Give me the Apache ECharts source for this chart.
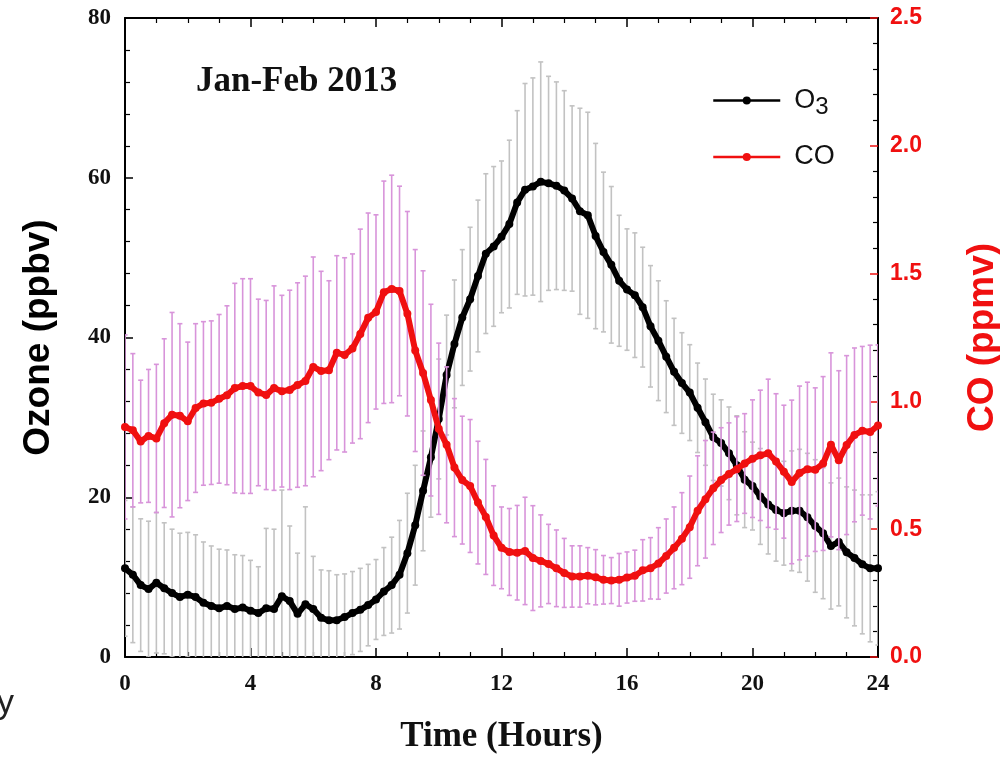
<!DOCTYPE html>
<html>
<head>
<meta charset="utf-8">
<title>Jan-Feb 2013 O3 / CO</title>
<script src="https://cdn.jsdelivr.net/npm/echarts@6/dist/echarts.min.js"></script>
<style>
  html, body { margin: 0; padding: 0; background: #fff; overflow: hidden; }
  #chart { width: 1000px; height: 760px; }
</style>
</head>
<body>
<div id="chart"></div>
<script>
// time of day (hours), 15 min steps
var hours = [
  0, 0.25, 0.5, 0.75, 1, 1.25, 1.5, 1.75, 2, 2.25, 2.5, 2.75, 3, 3.25, 3.5, 3.75,
  4, 4.25, 4.5, 4.75, 5, 5.25, 5.5, 5.75, 6, 6.25, 6.5, 6.75, 7, 7.25, 7.5, 7.75,
  8, 8.25, 8.5, 8.75, 9, 9.25, 9.5, 9.75, 10, 10.25, 10.5, 10.75, 11, 11.25, 11.5, 11.75,
  12, 12.25, 12.5, 12.75, 13, 13.25, 13.5, 13.75, 14, 14.25, 14.5, 14.75, 15, 15.25, 15.5, 15.75,
  16, 16.25, 16.5, 16.75, 17, 17.25, 17.5, 17.75, 18, 18.25, 18.5, 18.75, 19, 19.25, 19.5, 19.75,
  20, 20.25, 20.5, 20.75, 21, 21.25, 21.5, 21.75, 22, 22.25, 22.5, 22.75, 23, 23.25, 23.5, 23.75,
  24
];

// ozone mean (ppbv)
var o3Mean = [
  11.1, 10.3, 9.0, 8.5, 9.3, 8.6, 8.0, 7.5, 7.8, 7.5, 6.8, 6.4, 6.1, 6.4, 6.0, 6.2,
  5.8, 5.5, 6.1, 6.0, 7.6, 7.0, 5.4, 6.6, 6.0, 4.9, 4.6, 4.6, 5.0, 5.5, 5.9, 6.5,
  7.2, 8.2, 9.0, 10.3, 13.0, 16.5, 20.8, 25.0, 29.8, 35.3, 39.2, 42.5, 44.8, 47.7, 50.5, 51.4,
  52.6, 54.2, 56.9, 58.5, 58.9, 59.5, 59.3, 59.0, 58.4, 57.4, 55.8, 55.3, 52.7, 50.7, 49.1, 47.1,
  46.0, 45.3, 43.8, 41.4, 39.6, 37.6, 35.7, 34.3, 33.1, 31.2, 29.4, 27.5, 26.8, 25.5, 24.0, 22.2,
  21.4, 20.1, 19.1, 18.4, 18.0, 18.3, 18.3, 17.5, 16.4, 15.5, 13.9, 14.4, 13.1, 12.4, 11.6, 11.1,
  11.1
];

// ozone standard deviation (ppbv)
var o3Sd = [
  8.5, 8.5, 8.3, 8.5, 8.8, 8.2, 8.0, 8.0, 7.8, 7.8, 7.6, 7.5, 7.4, 7.0, 6.8, 6.5,
  6.3, 5.8, 10.0, 10.0, 13.3, 9.4, 7.6, 12.2, 6.6, 6.0, 6.2, 5.7, 5.4, 5.2, 5.2, 5.1,
  5.0, 5.5, 6.0, 6.8, 7.5, 7.5, 7.5, 7.5, 7.5, 7.5, 8.0, 8.5, 9.0, 9.5, 10.0, 10.0,
  9.5, 10.5, 11.5, 13.3, 13.6, 15.0, 13.4, 13.0, 12.5, 11.6, 12.9, 12.9, 11.6, 10.0, 9.8, 8.2,
  7.6, 7.8, 7.5, 7.6, 7.5, 7.0, 6.7, 6.3, 6.0, 5.6, 5.4, 5.4, 5.4, 5.8, 6.2, 6.0,
  5.5, 6.0, 6.2, 6.4, 6.5, 7.5, 7.7, 8.0, 8.3, 8.2, 7.9, 8.0, 8.2, 8.5, 8.7, 9.2,
  9.6
];

// CO mean (ppmv)
var coMean = [
  0.900, 0.887, 0.843, 0.865, 0.855, 0.915, 0.948, 0.944, 0.922, 0.974, 0.992, 0.995, 1.010, 1.024, 1.052, 1.060,
  1.060, 1.035, 1.025, 1.052, 1.040, 1.045, 1.064, 1.080, 1.135, 1.119, 1.122, 1.190, 1.182, 1.207, 1.264, 1.327,
  1.350, 1.427, 1.440, 1.432, 1.343, 1.199, 1.111, 1.005, 0.893, 0.830, 0.741, 0.692, 0.669, 0.604, 0.548, 0.475,
  0.427, 0.411, 0.408, 0.415, 0.387, 0.376, 0.364, 0.347, 0.329, 0.315, 0.315, 0.318, 0.312, 0.302, 0.299, 0.302,
  0.311, 0.318, 0.339, 0.347, 0.366, 0.395, 0.427, 0.463, 0.508, 0.572, 0.617, 0.660, 0.692, 0.716, 0.735, 0.757,
  0.776, 0.789, 0.797, 0.765, 0.725, 0.685, 0.720, 0.735, 0.733, 0.757, 0.830, 0.770, 0.829, 0.869, 0.885, 0.880,
  0.906
];

// CO standard deviation (ppmv)
var coSd = [
  0.36, 0.30, 0.24, 0.26, 0.29, 0.33, 0.40, 0.36, 0.31, 0.33, 0.32, 0.32, 0.33, 0.35, 0.41, 0.42,
  0.42, 0.365, 0.37, 0.40, 0.375, 0.39, 0.40, 0.41, 0.43, 0.39, 0.35, 0.38, 0.38, 0.37, 0.41, 0.41,
  0.38, 0.435, 0.445, 0.41, 0.40, 0.395, 0.40, 0.375, 0.335, 0.305, 0.27, 0.25, 0.26, 0.24, 0.225, 0.195,
  0.16, 0.17, 0.185, 0.21, 0.205, 0.18, 0.155, 0.15, 0.135, 0.12, 0.12, 0.11, 0.108, 0.095, 0.09, 0.103,
  0.10, 0.10, 0.12, 0.12, 0.14, 0.145, 0.16, 0.18, 0.20, 0.215, 0.23, 0.22, 0.205, 0.20, 0.205, 0.195,
  0.23, 0.255, 0.29, 0.265, 0.26, 0.32, 0.34, 0.34, 0.32, 0.34, 0.36, 0.35, 0.35, 0.34, 0.33, 0.34,
  0.315
];

var xTicks = [0, 4, 8, 12, 16, 20, 24];
var o3Ticks = [0, 20, 40, 60, 80];
var coTicks = [0, 0.5, 1.0, 1.5, 2.0, 2.5];

(function () {
    var myChart = echarts.init(document.getElementById('chart'), null, { renderer: 'canvas' });

    var serif = 'Liberation Serif, Times New Roman, serif';
    var sans = 'Liberation Sans, Arial, sans-serif';
    var red = '#f01010';

    // [x, mean, sd] rows for the error bars
    function rows(mean, sd) {
        return hours.map(function (h, i) { return [h, mean[i], sd[i]]; });
    }
    function points(mean) {
        return hours.map(function (h, i) { return [h, mean[i]]; });
    }

    // vertical error bar with small caps
    function errorBar(color, width) {
        return function (params, api) {
            var x = api.value(0), m = api.value(1), s = api.value(2);
            var hi = api.coord([x, m + s]);
            var lo = api.coord([x, m - s]);
            var cap = 2.5;
            var st = { stroke: color, lineWidth: width };
            return {
                type: 'group',
                children: [
                    { type: 'line', shape: { x1: hi[0], y1: hi[1], x2: lo[0], y2: lo[1] }, style: st },
                    { type: 'line', shape: { x1: hi[0] - cap, y1: hi[1], x2: hi[0] + cap, y2: hi[1] }, style: st },
                    { type: 'line', shape: { x1: lo[0] - cap, y1: lo[1], x2: lo[0] + cap, y2: lo[1] }, style: st }
                ]
            };
        };
    }

    var xBase = {
        type: 'value',
        min: xTicks[0],
        max: xTicks[xTicks.length - 1],
        interval: 4,
        axisLine: { show: true, onZero: false, lineStyle: { color: '#000', width: 2 } },
        axisTick: { inside: true, length: 9, lineStyle: { color: '#000', width: 1.5 } },
        minorTick: { show: true, splitNumber: 4, length: 5, lineStyle: { color: '#000', width: 1.2 } },
        splitLine: { show: false },
        minorSplitLine: { show: false }
    };

    var option = {
        backgroundColor: '#fff',
        animation: false,
        title: {
            text: 'Jan-Feb 2013',
            left: 191,
            top: 59,
            textStyle: { fontFamily: serif, fontWeight: 'bold', fontSize: 35, color: '#111' }
        },
        legend: {
            orient: 'vertical',
            left: 707,
            top: 82,
            itemWidth: 67,
            itemHeight: 10,
            itemGap: 24,
            data: ['O3', 'CO'],
            lineStyle: { width: 2.5 },
            formatter: function (name) {
                return name === 'O3' ? '{a|O}{s|3}' : '{a|CO}';
            },
            textStyle: {
                color: '#111',
                fontFamily: sans,
                rich: {
                    a: { fontSize: 27, fontFamily: sans, color: '#111', padding: [0, 0, 0, 9] },
                    s: { fontSize: 24, fontFamily: sans, color: '#111', padding: [14, 0, 0, 0] }
                }
            }
        },
        grid: { left: 125, right: 122, top: 18, bottom: 103, containLabel: false, outerBoundsMode: 'none' },
        xAxis: [
            Object.assign({}, xBase, {
                position: 'bottom',
                name: 'Time (Hours)',
                nameLocation: 'middle',
                nameGap: 62,
                nameTextStyle: { fontFamily: serif, fontWeight: 'bold', fontSize: 35, color: '#111' },
                axisLabel: { margin: 16, fontFamily: serif, fontWeight: 'bold', fontSize: 23, color: '#111' }
            }),
            Object.assign({}, xBase, {
                position: 'top',
                axisLabel: { show: false }
            })
        ],
        yAxis: [
            {
                type: 'value',
                position: 'left',
                min: o3Ticks[0],
                max: o3Ticks[o3Ticks.length - 1],
                interval: 20,
                name: 'Ozone (ppbv)',
                nameLocation: 'middle',
                nameRotate: 90,
                nameGap: 68,
                nameTextStyle: { fontFamily: sans, fontWeight: 'bold', fontSize: 37, color: '#000' },
                axisLine: { show: true, onZero: false, lineStyle: { color: '#000', width: 2 } },
                axisTick: { inside: true, length: 8, lineStyle: { color: '#000', width: 1.5 } },
                minorTick: { show: true, splitNumber: 5, length: 5, lineStyle: { color: '#000', width: 1.2 } },
                splitLine: { show: false },
                axisLabel: { margin: 14, fontFamily: serif, fontWeight: 'bold', fontSize: 23, color: '#111' }
            },
            {
                type: 'value',
                position: 'right',
                min: coTicks[0],
                max: coTicks[coTicks.length - 1],
                interval: 0.5,
                name: 'CO (ppmv)',
                nameLocation: 'middle',
                nameRotate: 90,
                nameGap: 86,
                nameTextStyle: { fontFamily: sans, fontWeight: 'bold', fontSize: 37, color: red },
                axisLine: { show: true, onZero: false, lineStyle: { color: '#000', width: 2 } },
                axisTick: { show: true, inside: true, length: 8, lineStyle: { color: red, width: 1.5 } },
                minorTick: { show: true, splitNumber: 5, length: 5, lineStyle: { color: '#000', width: 1.2 } },
                splitLine: { show: false },
                axisLabel: {
                    margin: 12, fontFamily: sans, fontWeight: 'bold', fontSize: 23, color: red,
                    formatter: function (v) { return v.toFixed(1); }
                }
            }
        ],
        series: [
            {
                name: 'O3 sd',
                type: 'custom',
                xAxisIndex: 0,
                yAxisIndex: 0,
                clip: true,
                silent: true,
                z: 1,
                renderItem: errorBar('#c2c2c2', 1.6),
                encode: { x: 0, y: 1 },
                data: rows(o3Mean, o3Sd)
            },
            {
                name: 'O3',
                type: 'line',
                xAxisIndex: 0,
                yAxisIndex: 0,
                z: 2,
                symbol: 'circle',
                symbolSize: 8,
                showSymbol: true,
                color: '#000',
                lineStyle: { color: '#000', width: 6 },
                itemStyle: { color: '#000' },
                data: points(o3Mean)
            },
            {
                name: 'CO sd',
                type: 'custom',
                xAxisIndex: 0,
                yAxisIndex: 1,
                clip: true,
                silent: true,
                z: 3,
                renderItem: errorBar('#d894da', 1.6),
                encode: { x: 0, y: 1 },
                data: rows(coMean, coSd)
            },
            {
                name: 'CO',
                type: 'line',
                xAxisIndex: 0,
                yAxisIndex: 1,
                z: 4,
                symbol: 'circle',
                symbolSize: 8,
                showSymbol: true,
                color: red,
                lineStyle: { color: red, width: 6 },
                itemStyle: { color: red },
                data: points(coMean)
            }
        ],
        graphic: [
            {
                type: 'text',
                left: -3,
                top: 687,
                style: { text: 'y', font: '34px Liberation Sans, Arial, sans-serif', fill: '#222' }
            }
        ]
    };

    myChart.setOption(option);

    window.addEventListener('resize', function () {
        myChart.resize();
    });
})();
</script>
</body>
</html>
